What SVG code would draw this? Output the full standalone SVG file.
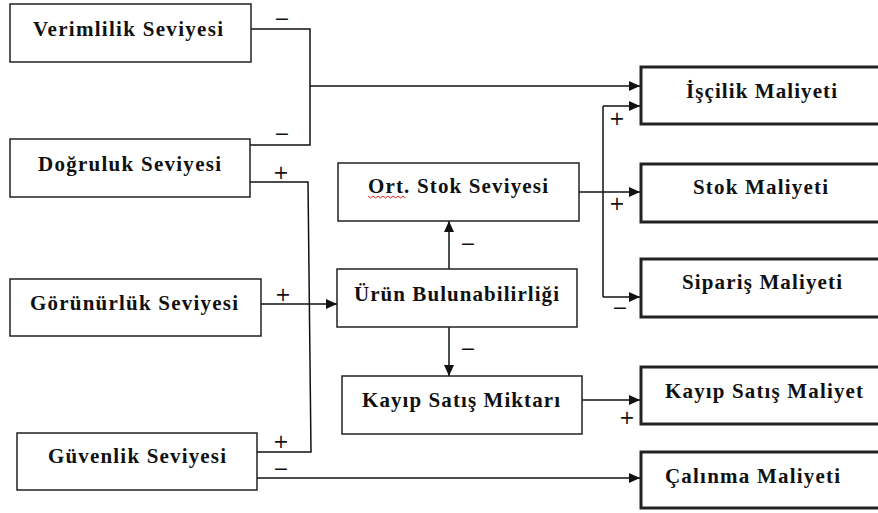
<svg xmlns="http://www.w3.org/2000/svg" width="878" height="513" viewBox="0 0 878 513">
<defs>
<style>
.n{fill:#fff;stroke:#222;stroke-width:1.5}
.t{fill:#fff;stroke:#222;stroke-width:3}
.lb{font-family:"Liberation Serif","Times New Roman",serif;font-weight:bold;font-size:21px;fill:#111}
.sg{font-family:"DejaVu Sans","Liberation Sans",sans-serif;font-size:19px;fill:#111;text-anchor:middle}
.c{fill:none;stroke:#111;stroke-width:1.5}
</style>
<marker id="ah" markerUnits="userSpaceOnUse" markerWidth="12" markerHeight="10" refX="11" refY="5" orient="auto">
<path d="M0,0 L11,5 L0,10 z" fill="#111"/>
</marker>
</defs>
<rect width="878" height="513" fill="#fff"/>
<g id="connectors">
<path class="c" d="M251 29 H310 V145 H250"/>
<path class="c" d="M310 86 H640" marker-end="url(#ah)"/>
<path class="c" d="M249 182 H308 L311 452 H253"/>
<path class="c" d="M261 304 H337" marker-end="url(#ah)"/>
<path class="c" d="M257 478 H640" marker-end="url(#ah)"/>
<path class="c" d="M449 277 V221" marker-end="url(#ah)"/>
<path class="c" d="M449 318 V376" marker-end="url(#ah)"/>
<path class="c" d="M579 192 H640" marker-end="url(#ah)"/>
<path class="c" d="M603 106 V297"/>
<path class="c" d="M603 106 H640" marker-end="url(#ah)"/>
<path class="c" d="M603 297 H640" marker-end="url(#ah)"/>
<path class="c" d="M582 400 H640" marker-end="url(#ah)"/>
<text class="sg" x="282" y="25">−</text>
<text class="sg" x="282" y="140">−</text>
<text class="sg" x="281" y="179">+</text>
<text class="sg" x="283" y="301">+</text>
<text class="sg" x="281" y="448">+</text>
<text class="sg" x="281" y="475">−</text>
<text class="sg" x="468" y="250">−</text>
<text class="sg" x="468" y="355">−</text>
<text class="sg" x="617" y="125">+</text>
<text class="sg" x="617" y="210">+</text>
<text class="sg" x="620" y="314">−</text>
<text class="sg" x="627" y="424">+</text>
</g>
<g id="verimlilik"><rect class="n" x="10" y="4" width="241" height="58"/><text class="lb" x="33" y="36" textLength="190" lengthAdjust="spacing">Verimlilik Seviyesi</text></g>
<g id="dogruluk"><rect class="n" x="10" y="139" width="240" height="58"/><text class="lb" x="38" y="171" textLength="183" lengthAdjust="spacing">Doğruluk Seviyesi</text></g>
<g id="gorunurluk"><rect class="n" x="10" y="279" width="251" height="57"/><text class="lb" x="30" y="310" textLength="208" lengthAdjust="spacing">Görünürlük Seviyesi</text></g>
<g id="guvenlik"><rect class="n" x="17" y="433" width="240" height="57"/><text class="lb" x="48" y="463" textLength="178" lengthAdjust="spacing">Güvenlik Seviyesi</text></g>
<g id="ortstok"><rect class="n" x="338" y="163" width="241" height="58"/><text class="lb" x="368" y="193" textLength="180" lengthAdjust="spacing">Ort. Stok Seviyesi</text><path d="M368 196 l2.5 2 l2.5 -2 l2.5 2 l2.5 -2 l2.5 2 l2.5 -2 l2.5 2 l2.5 -2 l2.5 2 l2.5 -2 l2.5 2 l2.5 -2 l2.5 2 l2.5 -2 l2.5 2" fill="none" stroke="#e02020" stroke-width="1"/></g>
<g id="urun"><rect class="n" x="337" y="269" width="240" height="58"/><text class="lb" x="354" y="301" textLength="205" lengthAdjust="spacing">Ürün Bulunabilirliği</text></g>
<g id="kayipmiktar"><rect class="n" x="342" y="376" width="240" height="58"/><text class="lb" x="362" y="407" textLength="198" lengthAdjust="spacing">Kayıp Satış Miktarı</text></g>
<g id="iscilik"><rect class="t" x="641" y="67" width="250" height="57"/><text class="lb" x="686" y="98" textLength="151" lengthAdjust="spacing">İşçilik Maliyeti</text></g>
<g id="stokmaliyeti"><rect class="t" x="641" y="164" width="250" height="58"/><text class="lb" x="693" y="194" textLength="135" lengthAdjust="spacing">Stok Maliyeti</text></g>
<g id="siparis"><rect class="t" x="641" y="259" width="250" height="58"/><text class="lb" x="682" y="289" textLength="160" lengthAdjust="spacing">Sipariş Maliyeti</text></g>
<g id="kayipmaliyet"><rect class="t" x="641" y="367" width="250" height="57"/><text class="lb" x="665" y="398" textLength="198" lengthAdjust="spacing">Kayıp Satış Maliyet</text></g>
<g id="calinma"><rect class="t" x="641" y="452" width="250" height="56"/><text class="lb" x="665" y="483" textLength="175" lengthAdjust="spacing">Çalınma Maliyeti</text></g>
</svg>
